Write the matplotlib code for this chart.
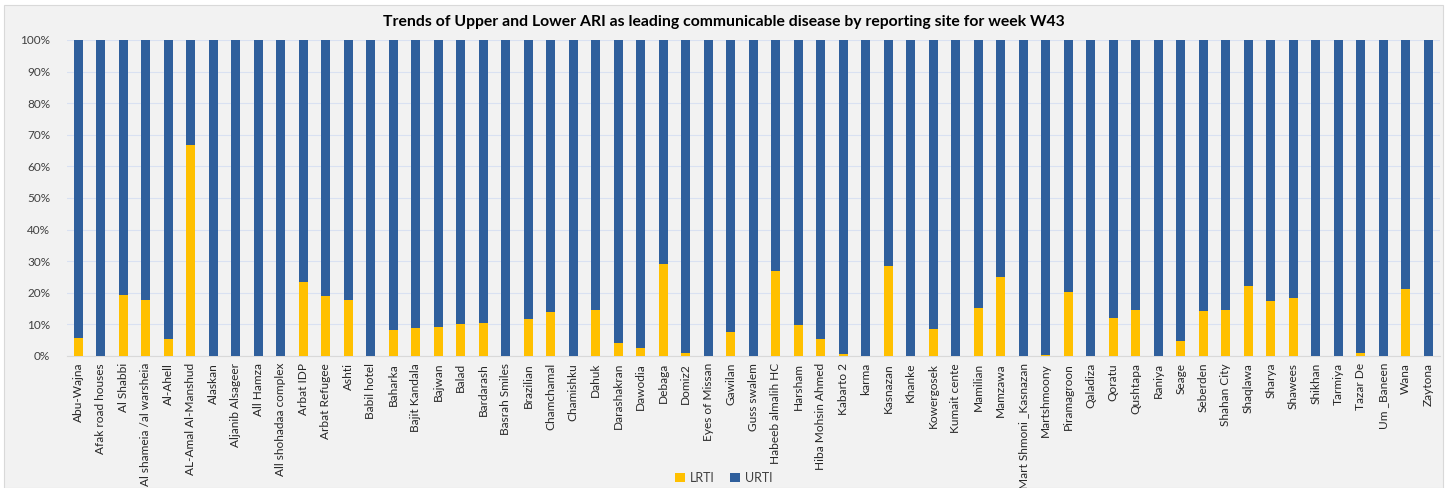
import numpy as np
import matplotlib.pyplot as plt
from matplotlib.patches import Rectangle
from matplotlib.ticker import PercentFormatter

plt.rcParams['font.family'] = ['Lato', 'DejaVu Sans']

# ======================
# DATA
# ======================

sites = [
    "Abu-Wajna", "Afak road houses", "Al Shabbi", "Al shameia /al warsheia", "Al-Ahell",
    "AL-Amal Al-Manshud", "Alaskan", "Aljanib Alsageer", "All Hamza", "All shohadaa complex",
    "Arbat IDP", "Arbat Refugee", "Ashti", "Babil hotel", "Baharka", "Bajit Kandala",
    "Bajwan", "Balad", "Bardarash", "Basrah Smiles", "Brazilian", "Chamchamal",
    "Chamishku", "Dahuk", "Darashakran", "Dawodia", "Debaga", "Domiz2", "Eyes of Missan",
    "Gawilan", "Guss swalem", "Habeeb almalih HC", "Harsham", "Hiba Mohsin Ahmed",
    "Kabarto 2", "karma", "Kasnazan", "Khanke", "Kowergosek", "Kumait cente", "Mamilian",
    "Mamzawa", "Mart Shmoni _Kasnazan", "Martshmoony", "Piramagroon", "Qaladiza", "Qoratu",
    "Qushtapa", "Raniya", "Seage", "Seberden", "Shahan City", "Shaqlawa", "Sharya",
    "Shawees", "Shikhan", "Tarmiya", "Tazar De", "Um _Baneen", "Wana", "Zaytona",
]

# LRTI share in percent (URTI is the remainder)
lrti = [
    5.7, 0, 19.4, 17.7, 5.3,
    66.7, 0, 0, 0, 0,
    23.4, 19.0, 17.7, 0, 8.2, 9.0,
    9.3, 10.0, 10.5, 0, 11.8, 13.8,
    0, 14.5, 4.2, 2.5, 29.1, 0.8, 0,
    7.7, 0, 26.9, 9.8, 5.4,
    0.5, 0, 28.6, 0, 8.7, 0, 15.3,
    25.1, 0, 0.4, 20.4, 0, 12.0,
    14.7, 0, 4.9, 14.2, 14.7, 22.3, 17.5,
    18.2, 0, 0, 1.0, 0, 21.2, 0,
]
urti = [100 - v for v in lrti]

# ======================
# PLOT
# ======================

fig = plt.figure(figsize=(14.47, 4.88), dpi=100, facecolor='white')
fig.patches.append(Rectangle((4 / 1447, 0), 1439 / 1447, 483 / 488,
                             transform=fig.transFigure, facecolor='#f2f2f2',
                             edgecolor='#d9d9d9', lw=0.8, zorder=-1))

ax = fig.add_axes([67 / 1447, 132 / 488, 1372.5 / 1447, 316 / 488])
ax.set_facecolor('#f2f2f2')

x = np.arange(len(sites))
ax.bar(x, lrti, width=0.4, color='#ffc000', label='LRTI', zorder=3)
ax.bar(x, urti, width=0.4, bottom=lrti, color='#2f5f9c', label='URTI', zorder=3)

ax.set_xlim(-0.5, len(sites) - 0.5)
ax.set_ylim(0, 100)
ax.set_yticks(np.arange(0, 101, 10))
ax.yaxis.set_major_formatter(PercentFormatter(decimals=0))
ax.grid(axis='y', color='#d9e1f2', lw=0.8, zorder=0)

ax.set_xticks(x)
ax.set_xticklabels(sites, rotation=90, fontsize=8.6, color='#262626')
ax.tick_params(axis='y', labelsize=8.5, labelcolor='#404040', length=0, pad=12)
ax.tick_params(axis='x', length=0, pad=5)

for s in ['top', 'right', 'left']:
    ax.spines[s].set_visible(False)
ax.spines['bottom'].set_color('#d9d9d9')

fig.text(0.5, 1 - 22 / 488, 'Trends of Upper and Lower ARI as leading communicable disease by reporting site for week W43',
         ha='center', va='center', fontsize=11.3, fontweight='bold', color='black')

fig.legend(loc='center', bbox_to_anchor=(0.5, 10 / 488), ncol=2, frameon=False,
           fontsize=9, handlelength=0.8, handleheight=0.8, handletextpad=0.4,
           columnspacing=1.2, labelcolor='#404040')

fig.savefig('out.png', dpi=100, facecolor=fig.get_facecolor())
